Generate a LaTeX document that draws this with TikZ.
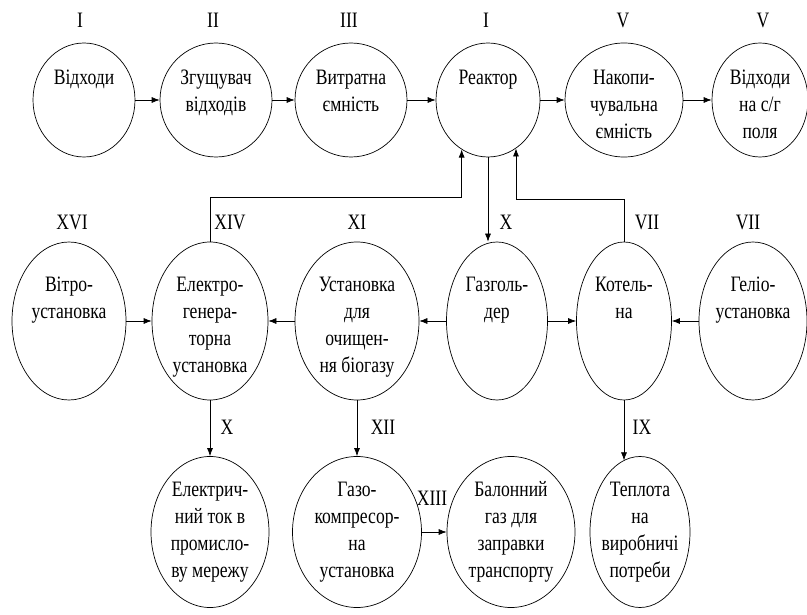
\documentclass[tikz,border=0pt]{standalone}
\usepackage{fontspec}
\setmainfont[FakeStretch=0.8]{Liberation Serif}
\usetikzlibrary{shapes,arrows.meta}
\tikzstyle{oval} = [ellipse, draw, inner sep=0pt, line width=0.7pt]
\tikzstyle{toprow} = [oval, minimum height=114pt]
\tikzstyle{midrow} = [oval, minimum height=158pt]
\tikzstyle{botrow} = [oval, minimum height=151pt]
\tikzstyle{num} = [inner sep=0pt]
\tikzstyle{line} = [draw, line width=0.7pt, -{Latex[length=8pt,width=6pt]}]
% text set from the top of the oval, first baseline raised by #1
\newcommand{\ovaltext}[2]{\makebox[0pt]{\raisebox{#1}[0pt][0pt]{\begin{tabular}[t]{@{}c@{}}#2\end{tabular}}}}

\begin{document}
\begin{tikzpicture}[x=1pt, y=1pt, font=\fontsize{22}{27}\selectfont]
	\useasboundingbox (0,0) rectangle (807,614);

	% upper row
	\node [toprow, minimum width=102pt] (otx) at (84,514) {\ovaltext{15pt}{Відходи}};
	\node [toprow, minimum width=112pt] (zgu) at (216,514) {\ovaltext{15pt}{Згущувач\\відходів}};
	\node [toprow, minimum width=112pt] (vyt) at (351,514) {\ovaltext{15pt}{Витратна\\ємність}};
	\node [toprow, minimum width=104pt] (reak) at (488,514) {\ovaltext{15pt}{Реактор}};
	\node [toprow, minimum width=118pt] (nak) at (624,514) {\ovaltext{15pt}{Накопи-\\чувальна\\ємність}};
	\node [toprow, minimum width=96pt] (pole) at (760,514) {\ovaltext{15pt}{Відходи\\на с/г\\поля}};

	% middle row
	\node [midrow, minimum width=114pt] (vit) at (69,293) {\ovaltext{29pt}{Вітро-\\установка}};
	\node [midrow, minimum width=116pt] (gen) at (210,293) {\ovaltext{29pt}{Електро-\\генера-\\торна\\установка}};
	\node [midrow, minimum width=124pt] (ust) at (357,293) {\ovaltext{29pt}{Установка\\для\\очищен-\\ня біогазу}};
	\node [midrow, minimum width=101pt] (gas) at (497,293) {\ovaltext{29pt}{Газголь-\\дер}};
	\node [midrow, minimum width=95pt] (kot) at (624,293) {\ovaltext{29pt}{Котель-\\на}};
	\node [midrow, minimum width=108pt] (gel) at (753,293) {\ovaltext{29pt}{Геліо-\\установка}};

	% lower row
	\node [botrow, minimum width=118pt] (el) at (210,82) {\ovaltext{35pt}{Електрич-\\ний ток в\\промисло-\\ву мережу}};
	\node [botrow, minimum width=129pt] (komp) at (357,82) {\ovaltext{35pt}{Газо-\\компресор-\\на\\установка}};
	\node [botrow, minimum width=128pt] (bal) at (511,82) {\ovaltext{35pt}{Балонний\\газ для\\заправки\\транспорту}};
	\node [botrow, minimum width=100pt] (tep) at (640,82) {\ovaltext{35pt}{Теплота\\на\\виробничі\\потреби}};

	% numbers
	\node [num] (n1) at (80,594) {I};
	\node [num] (n2) at (213,594) {II};
	\node [num] (n3) at (349,594) {III};
	\node [num] (n4) at (486,594) {I};
	\node [num] (n5) at (623,594) {V};
	\node [num] (n6) at (763,594) {V};
	\node [num] (n7) at (72,392) {XVI};
	\node [num] (n8) at (230,392) {XIV};
	\node [num] (n9) at (357,392) {XI};
	\node [num] (n10) at (506,392) {X};
	\node [num] (n11) at (647,392) {VII};
	\node [num] (n12) at (748,392) {VII};
	\node [num] (n13) at (227,187) {X};
	\node [num] (n14) at (383,187) {XII};
	\node [num] (n15) at (642,187) {IX};
	\node [num] (n16) at (432,116) {XIII};

	\path [line] (otx) -- (zgu);
	\path [line] (zgu) -- (vyt);
	\path [line] (vyt) -- (reak);
	\path [line] (reak) -- (nak);
	\path [line] (nak) -- (pole);

	\path [line] (gen.north) -- ++(0,44) -| (reak.242);
	\path [line] (kot.north) -- ++(0,42) -| (reak.300);
	\path [line] (reak.south) -- (reak.south |- gas.north);

	\path [line] (vit) -- (gen);
	\path [line] (ust) -- (gen);
	\path [line] (gas) -- (ust);
	\path [line] (gas) -- (kot);
	\path [line] (gel) -- (kot);

	\path [line] (gen) -- (el);
	\path [line] (ust) -- (komp);
	\path [line] (kot.south) -- (kot.south |- tep.103);
	\path [line] (komp) -- (bal);
\end{tikzpicture}
\end{document}
